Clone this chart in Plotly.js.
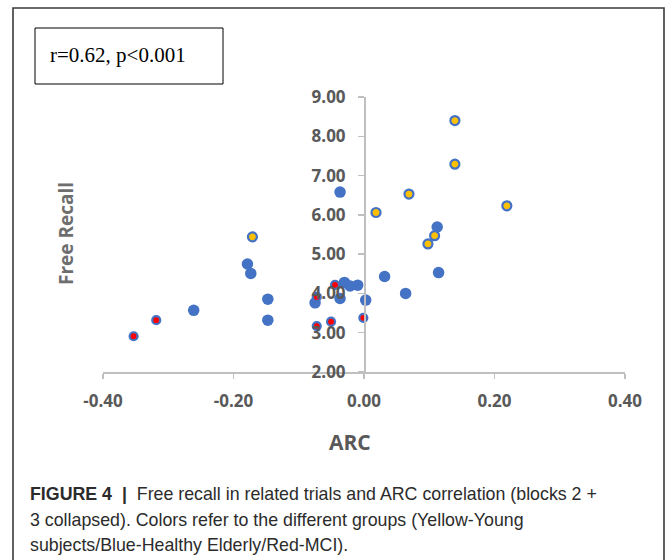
<!DOCTYPE html>
<html>
<head>
<meta charset="utf-8">
<script src="https://cdn.plot.ly/plotly-3.0.1.min.js"></script>
<style>
  html, body { margin: 0; padding: 0; background: #ffffff; }
  #chart { width: 669px; height: 560px; }
</style>
</head>
<body>
<div id="chart"></div>
<script>
// ---- Data ----
const arcElderly    = [-0.0367, -0.1786, -0.1735, -0.1474, -0.261, -0.075, -0.0367, -0.030, -0.0214, -0.0097, 0.0026, 0.1122, 0.1143, 0.0316, 0.0638, -0.1474];
const recallElderly = [6.58, 4.75, 4.51, 3.855, 3.57, 3.76, 3.87, 4.28, 4.19, 4.21, 3.83, 5.69, 4.53, 4.43, 4.00, 3.32];

const arcYoung    = [-0.171, 0.1393, 0.1393, 0.0689, 0.0184, 0.2189, 0.1082, 0.098];
const recallYoung = [5.44, 8.40, 7.29, 6.53, 6.06, 6.23, 5.47, 5.26];

const arcMCI    = [-0.3531, -0.3184, -0.0724, -0.0444, -0.0724, -0.0505, -0.001];
const recallMCI = [2.91, 3.32, 3.91, 4.22, 3.17, 3.28, 3.38];

const xTickVals  = [-0.4, -0.2, 0, 0.2, 0.4];
const xTickText  = ["-0.40", "-0.20", "0.00", "0.20", "0.40"];
const yTickVals  = [2, 3, 4, 5, 6, 7, 8, 9];
const yTickText  = ["2.00", "3.00", "4.00", "5.00", "6.00", "7.00", "8.00", "9.00"];

const statText   = "r=0.62, p<0.001";
const xTitle     = "ARC";
const yTitle     = "Free Recall";
const captionLines = [
  "<b>FIGURE 4</b>  <b>|</b>  Free recall in related trials and ARC correlation (blocks 2 +",
  "3 collapsed). Colors refer to the different groups (Yellow-Young",
  "subjects/Blue-Healthy Elderly/Red-MCI)."
];

// ---- Layout geometry ----
const W = 669, H = 560;
const M = { l: 103, r: 44, t: 97, b: 188 };
const PW = W - M.l - M.r, PH = H - M.t - M.b;
const px = x => (x - M.l) / PW;          // pixel -> paper x
const py = y => (H - M.b - y) / PH;      // pixel -> paper y

const blue = '#4472c4', yellow = '#ffc000', red = '#ff0000';
const axisGray = '#bfbfbf', textGray = '#595959';

const traces = [
  { type: 'scatter', mode: 'markers', name: 'Healthy Elderly', x: arcElderly, y: recallElderly,
    marker: { size: 11.5, color: blue, line: { width: 0 } } },
  { type: 'scatter', mode: 'markers', name: 'Young', x: arcYoung, y: recallYoung,
    marker: { size: 9, color: yellow, line: { color: blue, width: 2.2 } } },
  { type: 'scatter', mode: 'markers', name: 'MCI', x: arcMCI, y: recallMCI,
    marker: { size: 8, color: red, line: { color: blue, width: 2.2 } } }
];

const tickFont = { family: 'Open Sans', size: 17, color: textGray, weight: 'bold' };

const layout = {
  width: W, height: H,
  margin: M,
  paper_bgcolor: '#ffffff', plot_bgcolor: 'rgba(0,0,0,0)',
  showlegend: false,
  xaxis: {
    range: [-0.4, 0.4], domain: [0, 1],
    tickvals: xTickVals, ticktext: xTickText,
    showgrid: false, zeroline: false,
    showline: true, linecolor: axisGray, linewidth: 1.5,
    ticks: 'outside', ticklen: 5, tickcolor: axisGray, tickwidth: 1.5,
    ticklabelstandoff: 8,
    tickfont: tickFont
  },
  yaxis: {
    range: [2, 9],
    anchor: 'free', position: 0.5,
    tickvals: yTickVals, ticktext: yTickText,
    showgrid: false, zeroline: false,
    showline: true, linecolor: axisGray, linewidth: 1.5,
    ticks: 'outside', ticklen: 6, tickcolor: axisGray, tickwidth: 1.5,
    ticklabelstandoff: 9,
    tickfont: tickFont
  },
  shapes: [
    // outer figure frame (open at bottom)
    { type: 'path', xref: 'paper', yref: 'paper',
      path: `M ${px(13)},${py(575)} L ${px(13)},${py(8)} L ${px(664)},${py(8)} L ${px(664)},${py(575)}`,
      line: { color: '#3a3a3a', width: 1.6 } },
    // statistics box
    { type: 'rect', xref: 'paper', yref: 'paper',
      x0: px(35), x1: px(223), y0: py(84), y1: py(28),
      line: { color: '#000000', width: 1 }, fillcolor: 'rgba(0,0,0,0)' }
  ],
  annotations: [
    { xref: 'paper', yref: 'paper', x: px(48), y: py(55), xanchor: 'left', yanchor: 'middle',
      text: statText, showarrow: false,
      font: { family: 'Liberation Serif', size: 21, color: '#000000' } },
    { xref: 'paper', yref: 'paper', x: px(66), y: py(234), xanchor: 'center', yanchor: 'middle',
      text: yTitle, textangle: -90, showarrow: false,
      font: { family: 'Open Sans', size: 19, color: '#6e6e6e', weight: 'bold' } },
    { xref: 'paper', yref: 'paper', x: px(350), y: py(442), xanchor: 'center', yanchor: 'middle',
      text: xTitle, showarrow: false,
      font: { family: 'Open Sans', size: 21, color: textGray, weight: 'bold' } },
    ...captionLines.map((t, i) => ({
      xref: 'paper', yref: 'paper', x: px(28), y: py(494 + i * 25.5), xanchor: 'left', yanchor: 'middle',
      text: t, showarrow: false,
      font: { family: 'Liberation Sans', size: 17.8, color: '#2b2b2b' }
    }))
  ]
};

Plotly.newPlot('chart', traces, layout, { staticPlot: true, displayModeBar: false });
</script>
</body>
</html>
